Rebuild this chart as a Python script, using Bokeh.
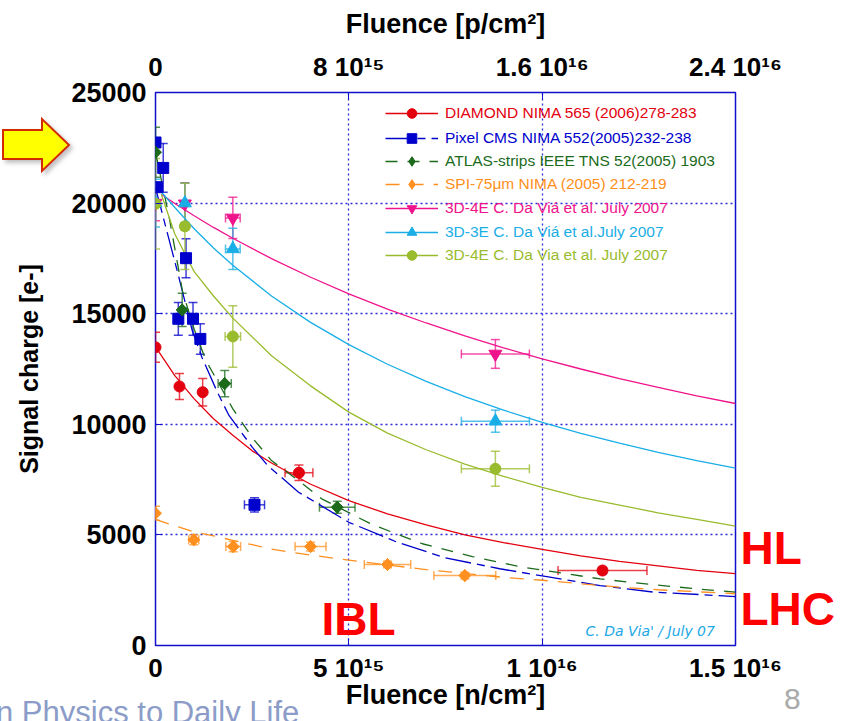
import math
from bokeh.plotting import figure
from bokeh.models import (Range1d, LinearAxis, FixedTicker, Whisker, TeeHead,
                          ColumnDataSource, Legend, LegendItem, Label, Div)
from bokeh.layouts import column
from bokeh.embed import file_html
from bokeh.resources import INLINE

# ---------------- data (fluence in units of 1e15 n/cm2) ----------------
n_ticks = [0, 5, 10, 15]
n_tick_labels = ["0", "5 10\u00b9\u2075", "1 10\u00b9\u2076", "1.5 10\u00b9\u2076"]
p_ticks = [0, 8, 16, 24]
p_tick_labels = ["0", "8 10\u00b9\u2075", "1.6 10\u00b9\u2076", "2.4 10\u00b9\u2076"]
y_ticks = [0, 5000, 10000, 15000, 20000, 25000]

labels = [
    "DIAMOND NIMA 565 (2006)278-283",
    "Pixel CMS NIMA 552(2005)232-238",
    "ATLAS-strips IEEE TNS 52(2005) 1903",
    "SPI-75\u03bcm NIMA (2005) 212-219",
    "3D-4E C. Da Vi\u00e1 et al. July 2007",
    "3D-3E C. Da Vi\u00e1 et al.July 2007",
    "3D-4E C. Da Via et al. July 2007",
]

diamond_x = [0, 0.62, 1.22, 3.71, 11.56]
diamond_y = [13480, 11710, 11450, 7810, 3390]
diamond_xerr = [0, 0, 0, 0.36, 1.15]
diamond_yerr = [680, 590, 620, 350, 150]

cms_x = [0, 0.04, 0.2, 0.79, 0.59, 0.97, 1.16, 2.56]
cms_y = [22740, 20720, 21590, 17510, 14770, 14770, 13860, 6360]
cms_xerr = [0, 0, 0, 0, 0, 0, 0, 0.26]
cms_yerr = [0, 0, 1100, 880, 740, 740, 690, 320]

atlas_x = [0, 0.69, 1.79, 4.70]
atlas_y = [22300, 15170, 11840, 6250]
atlas_xerr = [0, 0, 0.17, 0.46]
atlas_yerr = [1130, 750, 590, 270]

spi_x = [0, 0.99, 2.01, 4.01, 6.0, 8.0]
spi_y = [5980, 4780, 4470, 4470, 3660, 3160]
spi_xerr = [0, 0.13, 0.19, 0.40, 0.60, 0.80]
spi_yerr = [320, 230, 230, 200, 150, 150]

pink_x = [0, 0.76, 2.0, 8.79]
pink_y = [20000, 19970, 19330, 13180]
pink_xerr = [0, 0, 0.19, 0.88]
pink_yerr = [800, 950, 930, 650]

cyan_x = [0, 0.76, 2.0, 8.79]
cyan_y = [20000, 20000, 17930, 10140]
cyan_xerr = [0, 0, 0.19, 0.88]
cyan_yerr = [1080, 900, 935, 500]

olive_x = [0, 0.76, 2.0, 8.79]
olive_y = [19970, 18950, 13970, 7990]
olive_xerr = [0, 0.1, 0.2, 0.88]
olive_yerr = [2050, 1950, 1390, 790]

# fitted curves
red_fit_x = [0, 0.5, 1, 1.5, 2, 2.5, 3, 4, 5, 6, 7, 8, 9, 10, 11, 12, 13, 14, 15]
red_fit_y = [13500, 12200, 11150, 10250, 9500, 8800, 8250, 7300, 6550, 5950, 5450,
             5000, 4650, 4350, 4050, 3800, 3600, 3400, 3250]
blue_fit_x = [0, 0.56, 0.95, 1.2, 1.6, 1.9, 2.5, 2.9, 3.7, 5.0, 6.25, 7.5, 8.9, 10.2,
              11.5, 12.9, 14.1, 15]
blue_fit_y = [20700, 16950, 14240, 13030, 11450, 10400, 8970, 8140, 6930, 5570, 4670,
              3960, 3470, 3090, 2710, 2410, 2300, 2210]
green_fit_x = [0, 0.35, 0.7, 1.0, 1.3, 2.0, 2.5, 3.0, 3.7, 4.3, 5.6, 6.9, 8.2, 9.5,
               11.5, 12.8, 14.0, 15]
green_fit_y = [22300, 19400, 16000, 14300, 12900, 10700, 9400, 8360, 7450, 6630, 5470,
               4600, 4020, 3540, 3010, 2760, 2560, 2410]
orange_fit_x = [0, 0.34, 1, 1.5, 2, 2.5, 3, 3.5, 4, 5, 6, 7, 8, 9, 10, 11, 12, 13, 14, 15]
orange_fit_y = [5700, 5500, 5130, 4960, 4750, 4560, 4360, 4220, 4090, 3860, 3640, 3430,
                3260, 3080, 2950, 2790, 2640, 2520, 2430, 2340]
fit3d_x = [0.15, 0.5, 1, 1.5, 2, 3, 4, 5, 6, 7, 8, 9, 10, 11, 12, 13, 14, 15]
pink_fit_y = [20400, 19980, 19430, 18900, 18410, 17490, 16660, 15900, 15210, 14580,
              14000, 13460, 12960, 12500, 12070, 11670, 11290, 10940]
cyan_fit_y = [20500, 19800, 18840, 17970, 17190, 15800, 14620, 13600, 12715, 11940,
              11250, 10640, 10090, 9590, 9145, 8735, 8360, 8020]
olive_fit_y = [20400, 18600, 16900, 15800, 14800, 13100, 11750, 10550, 9600, 8850,
               8200, 7650, 7150, 6700, 6350, 6000, 5700, 5400]

# side labels on the right (HL / LHC) placed at signal-charge levels
side_ticks = [1650, 4410]
side_labels = ["LHC", "HL"]

# ---------------- figure ----------------
FONT = "Liberation Sans"
BLUE_FRAME = "#1010cc"
W, H = 838, 713

p = figure(width=W, height=H, output_backend="svg", toolbar_location=None,
           x_range=Range1d(0, 15), y_range=Range1d(0, 25000),
           min_border_left=155, min_border_right=W - 735, min_border_top=92,
           min_border_bottom=H - 645)
p.extra_x_ranges = {"p": Range1d(0, 24)}
p.outline_line_color = BLUE_FRAME
p.outline_line_width = 1.5
p.background_fill_color = "white"
p.border_fill_color = "white"

def style_axis(ax, size="26px"):
    ax.major_label_text_font = FONT
    ax.major_label_text_font_style = "bold"
    ax.major_label_text_font_size = size
    ax.major_label_text_color = "black"
    ax.axis_label_text_font = FONT
    ax.axis_label_text_font_style = "bold"
    ax.axis_label_text_color = "black"
    ax.axis_line_color = None
    ax.major_tick_line_color = BLUE_FRAME
    ax.major_tick_in = 7
    ax.major_tick_out = 0
    ax.minor_tick_line_color = None

xb = p.xaxis[0]
xb.ticker = FixedTicker(ticks=n_ticks)
xb.major_label_overrides = dict(zip(n_ticks, n_tick_labels))
xb.axis_label = "Fluence [n/cm\u00b2]"
style_axis(xb)
xb.axis_label_text_font_size = "27px"
xb.major_label_standoff = 7
xb.axis_label_standoff = -6

yl = p.yaxis[0]
yl.ticker = FixedTicker(ticks=y_ticks)
yl.axis_label = "Signal charge [e-]"
style_axis(yl, "27px")
yl.axis_label_text_font_size = "25px"
yl.major_label_standoff = 9
yl.axis_label_standoff = 25

top = LinearAxis(x_range_name="p", ticker=FixedTicker(ticks=p_ticks),
                 axis_label="Fluence [p/cm\u00b2]")
top.major_label_overrides = dict(zip(p_ticks, p_tick_labels))
style_axis(top)
top.axis_label_text_font_size = "27px"
top.major_label_standoff = 11
top.axis_label_standoff = 10
p.add_layout(top, "above")

right = LinearAxis(ticker=FixedTicker(ticks=side_ticks))
right.major_label_overrides = dict(zip(side_ticks, side_labels))
style_axis(right, "46px")
right.major_label_text_color = "#ff0000"
right.major_tick_line_color = None
right.major_label_standoff = 5
p.add_layout(right, "right")

p.xgrid.ticker = FixedTicker(ticks=[5, 10])
p.ygrid.ticker = FixedTicker(ticks=[5000, 10000, 15000, 20000])
for g in (p.xgrid[0], p.ygrid[0]):
    g.grid_line_color = "#2a2ad8"
    g.grid_line_dash = "2 3"
    g.grid_line_width = 1.3

# ---------------- series ----------------
# label, x, y, xerr, yerr, fit_x, fit_y, colour, marker, size, angle, legend marker, dash
DIA = math.pi / 4
series = [
    (labels[0], diamond_x, diamond_y, diamond_xerr, diamond_yerr, red_fit_x, red_fit_y,
     "#e3000f", "circle", 11, 0, None, "solid"),
    (labels[1], cms_x, cms_y, cms_xerr, cms_yerr, blue_fit_x, blue_fit_y,
     "#0000cc", "square", 11, 0, None, "26 6 8 6"),
    (labels[2], atlas_x, atlas_y, atlas_xerr, atlas_yerr, green_fit_x, green_fit_y,
     "#1b6b1b", "square", 8.5, DIA, "diamond", "12 10"),
    (labels[3], spi_x, spi_y, spi_xerr, spi_yerr, orange_fit_x, orange_fit_y,
     "#ff9020", "square", 8.5, DIA, "diamond", "14 10"),
    (labels[4], pink_x, pink_y, pink_xerr, pink_yerr, fit3d_x, pink_fit_y,
     "#ef148c", "inverted_triangle", 13, 0, None, "solid"),
    (labels[5], cyan_x, cyan_y, cyan_xerr, cyan_yerr, fit3d_x, cyan_fit_y,
     "#1aaee6", "triangle", 13, 0, None, "solid"),
    (labels[6], olive_x, olive_y, olive_xerr, olive_yerr, fit3d_x, olive_fit_y,
     "#99bb2e", "circle", 11, 0, None, "solid"),
]

legend_rows = [112.7, 137.5, 160.7, 184, 207.5, 232, 255]  # row centres (px from top)

curve_renderers = []
for lab, xs, ys, xe, ye, fx, fy, col, mk, sz, ang, lmk, dash in series:
    curve_renderers.append(p.line(fx, fy, line_color=col, line_width=1.3, line_dash=dash))

def head(col):
    return TeeHead(size=9, line_color=col, line_alpha=0.75, line_width=1.5)

for lab, xs, ys, xe, ye, fx, fy, col, mk, sz, ang, lmk, dash in series:
    ey = [(x, y - e, y + e) for x, y, e in zip(xs, ys, ye) if e > 0]
    if ey:
        src = ColumnDataSource(dict(x=[a[0] for a in ey], lo=[a[1] for a in ey],
                                    hi=[a[2] for a in ey]))
        p.add_layout(Whisker(source=src, base="x", lower="lo", upper="hi",
                             dimension="height", line_color=col, line_alpha=0.75,
                             line_width=1.5, upper_head=head(col), lower_head=head(col)))
    ex = [(y, x - e, x + e) for x, y, e in zip(xs, ys, xe) if e > 0]
    if ex:
        src = ColumnDataSource(dict(y=[a[0] for a in ex], lo=[a[1] for a in ex],
                                    hi=[a[2] for a in ex]))
        p.add_layout(Whisker(source=src, base="y", lower="lo", upper="hi",
                             dimension="width", line_color=col, line_alpha=0.75,
                             line_width=1.5, upper_head=head(col), lower_head=head(col)))

point_renderers = []
for lab, xs, ys, xe, ye, fx, fy, col, mk, sz, ang, lmk, dash in series:
    leg_r = None
    if lmk is not None:
        # upright diamond under the rotated square: hidden in the plot, shown in the legend
        leg_r = p.scatter(xs, ys, marker=lmk, size=12, fill_color=col, line_color=col)
    r = p.scatter(xs, ys, marker=mk, size=sz, angle=ang, fill_color=col, line_color=col)
    point_renderers.append(leg_r if leg_r is not None else r)

# one legend per entry so that each text carries its series colour
LEG_H = 24
for i, (lab, xs, ys, xe, ye, fx, fy, col, mk, sz, ang, lmk, dash) in enumerate(series):
    leg = Legend(items=[LegendItem(label=lab, renderers=[curve_renderers[i], point_renderers[i]])],
                 location=(385 - 155, 645 - legend_rows[i] - LEG_H / 2),
                 padding=0, margin=0, spacing=0, glyph_width=53, glyph_height=LEG_H,
                 label_height=LEG_H, label_standoff=7, border_line_color=None,
                 background_fill_alpha=0, label_text_color=col,
                 label_text_font=FONT, label_text_font_size="15.5px")
    p.add_layout(leg)

# labels inside the frame (screen units relative to the frame)
p.add_layout(Label(x=321 - 155, y=645 - 618.5, x_units="screen", y_units="screen",
                   text="IBL", text_font=FONT, text_font_size="46px", text_font_style="bold",
                   text_color="#ff0000", text_baseline="middle"))
p.add_layout(Label(x=585 - 155, y=645 - 630.5, x_units="screen", y_units="screen",
                   text="C. Da Via' / July 07", text_font="DejaVu Sans", text_font_size="14px",
                   text_font_style="italic", text_color="#22a8e6", text_baseline="middle"))

# slide decorations outside the plot frame (arrow, footer, page number)
overlay_html = (
    '<div style="position:relative;width:%dpx;height:%dpx;pointer-events:none;">'
    '<svg width="%d" height="%d" style="position:absolute;left:0;top:0;overflow:visible">'
    '<defs><filter id="sh" x="-20%%" y="-20%%" width="150%%" height="150%%">'
    '<feDropShadow dx="3" dy="3" stdDeviation="2" flood-color="#777" flood-opacity="0.45"/>'
    '</filter></defs>'
    '<polygon points="-2,125 37,125 37,114 64,140 37,166 37,154 -2,154" '
    'fill="#ffff00" stroke="#d42a00" stroke-width="2" filter="url(#sh)"/></svg>'
    '<span style="position:absolute;left:-9px;top:692px;font-family:\'Liberation Sans\';'
    'font-size:31px;line-height:1;color:#8c9cc8;white-space:nowrap">n Physics to Daily Life</span>'
    '<span style="position:absolute;left:779px;top:679px;font-family:\'Liberation Sans\';'
    'font-size:30px;line-height:1;color:#aaaaaa">8</span>'
    '</div>' % (W, H, W, H)
)
overlay = Div(text=overlay_html, width=W, height=H,
              styles={"position": "absolute", "left": "0px", "top": "0px",
                      "pointer-events": "none"})

layout = column(p, overlay, styles={"position": "relative"})

open("out.html", "w").write(file_html(layout, INLINE))
